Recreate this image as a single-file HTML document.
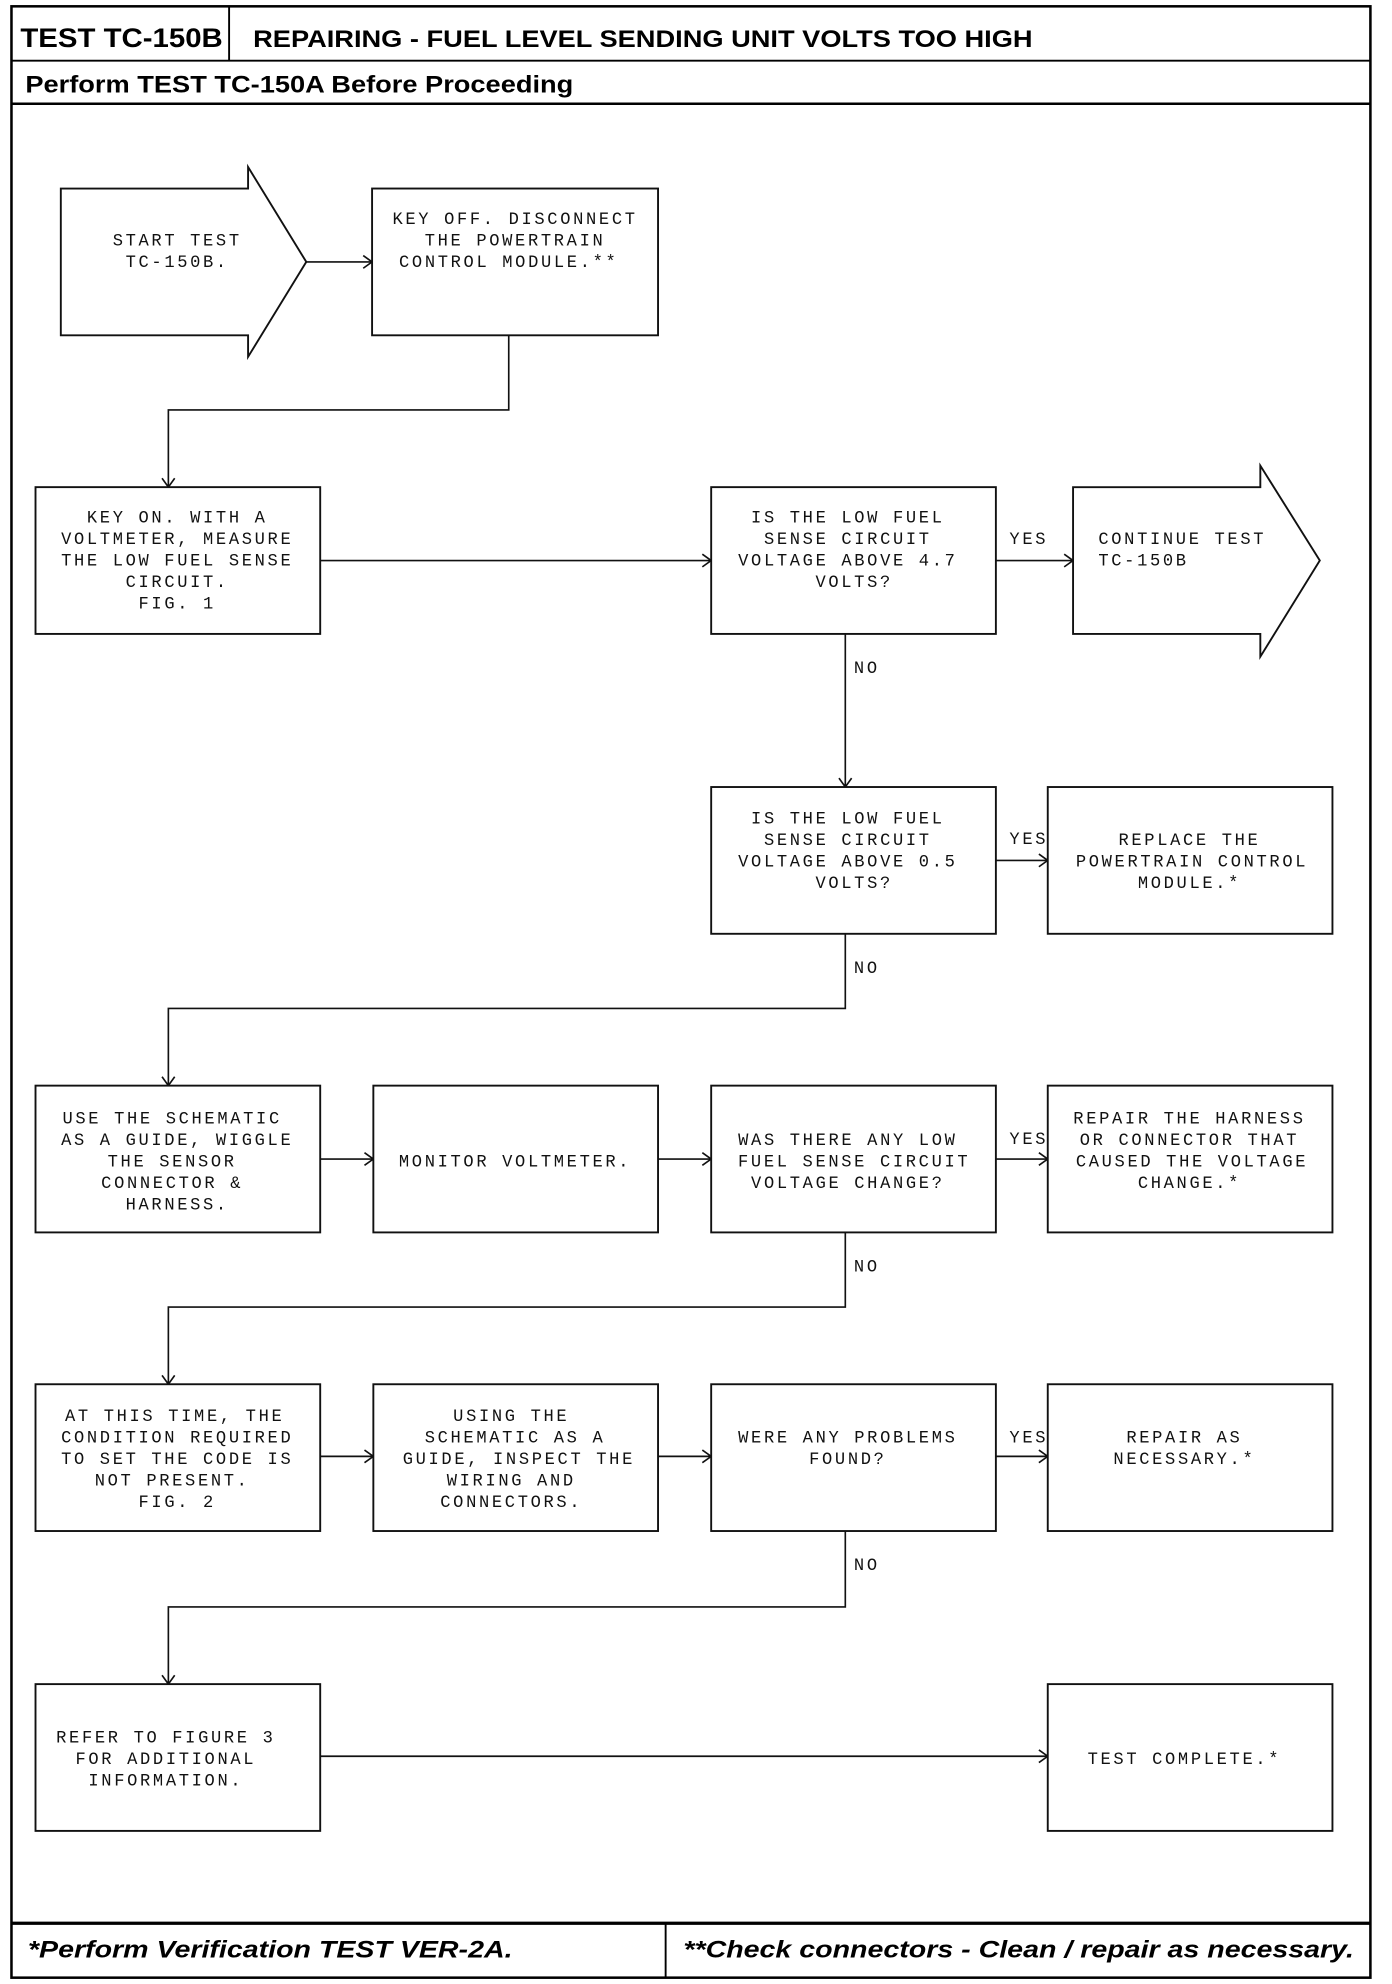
<!DOCTYPE html>
<html><head><meta charset="utf-8"><style>
html,body{margin:0;padding:0;background:#fff}
svg{display:block}
.m{font-family:"Liberation Mono",monospace;font-size:13.5px;letter-spacing:2.1px;text-anchor:middle;fill:#111}
.l{fill:none;stroke:#111;stroke-width:1.3}
.b{fill:#fff;stroke:#111;stroke-width:1.5}
.h{font-family:"Liberation Sans",sans-serif;font-weight:bold;fill:#000}
</style></head><body>
<svg width="1392" height="1984" viewBox="0 0 1100 1568" xmlns="http://www.w3.org/2000/svg">
<defs><marker id="a" markerWidth="12" markerHeight="12" refX="10" refY="6" orient="auto" markerUnits="userSpaceOnUse"><path d="M3,1 L10,6 L3,11" fill="none" stroke="#111" stroke-width="1.3"/></marker></defs>
<!-- frame -->
<rect x="9" y="5" width="1074" height="1558" fill="none" stroke="#000" stroke-width="2"/>
<line x1="9" y1="48" x2="1083" y2="48" stroke="#000" stroke-width="1.5"/>
<line x1="181" y1="5" x2="181" y2="48" stroke="#000" stroke-width="1.5"/>
<line x1="9" y1="82" x2="1083" y2="82" stroke="#000" stroke-width="2"/>
<line x1="9" y1="1520" x2="1083" y2="1520" stroke="#000" stroke-width="2.5"/>
<line x1="526" y1="1520" x2="526" y2="1563" stroke="#000" stroke-width="1.5"/>
<text class="h" x="16" y="37" font-size="21" textLength="160" lengthAdjust="spacingAndGlyphs">TEST TC-150B</text>
<text class="h" x="200" y="37" font-size="19" textLength="616" lengthAdjust="spacingAndGlyphs">REPAIRING - FUEL LEVEL SENDING UNIT VOLTS TOO HIGH</text>
<text class="h" x="20" y="73" font-size="19" textLength="433" lengthAdjust="spacingAndGlyphs">Perform TEST TC-150A Before Proceeding</text>
<text class="h" x="22" y="1547" font-size="19" font-style="italic" textLength="383" lengthAdjust="spacingAndGlyphs">*Perform Verification TEST VER-2A.</text>
<text class="h" x="540" y="1547" font-size="19" font-style="italic" textLength="530" lengthAdjust="spacingAndGlyphs">**Check connectors - Clean / repair as necessary.</text>

<!-- row 1 -->
<path class="b" d="M48,149 H196 V132 L242,207 L196,282 V265 H48 Z"/>
<text class="m" x="140" y="194">START TEST</text><text class="m" x="140" y="211">TC-150B.</text>
<line class="l" x1="242" y1="207" x2="294" y2="207" marker-end="url(#a)"/>
<rect class="b" x="294" y="149" width="226" height="116"/>
<text class="m" x="407" y="177">KEY OFF. DISCONNECT</text><text class="m" x="407" y="194">THE POWERTRAIN</text><text class="m" x="402" y="211">CONTROL MODULE.**</text>
<polyline class="l" points="402,265 402,324 133,324 133,385" marker-end="url(#a)"/>

<!-- row 2 -->
<rect class="b" x="28" y="385" width="225" height="116"/>
<text class="m" x="140" y="413">KEY ON. WITH A</text><text class="m" x="140" y="430">VOLTMETER, MEASURE</text><text class="m" x="140" y="447">THE LOW FUEL SENSE</text><text class="m" x="140" y="464">CIRCUIT.</text><text class="m" x="140" y="481">FIG. 1</text>
<line class="l" x1="253" y1="443" x2="562" y2="443" marker-end="url(#a)"/>
<rect class="b" x="562" y="385" width="225" height="116"/>
<text class="m" x="670" y="413">IS THE LOW FUEL</text><text class="m" x="670" y="430">SENSE CIRCUIT</text><text class="m" x="670" y="447">VOLTAGE ABOVE 4.7</text><text class="m" x="675" y="464">VOLTS?</text>
<text class="m" x="813" y="430">YES</text>
<line class="l" x1="787" y1="443" x2="848" y2="443" marker-end="url(#a)"/>
<path class="b" d="M848,385 H996 V368 L1043,443 L996,519 V501 H848 Z"/>
<text class="m" x="868" y="430" style="text-anchor:start">CONTINUE TEST</text><text class="m" x="868" y="447" style="text-anchor:start">TC-150B</text>
<line class="l" x1="668" y1="501" x2="668" y2="622" marker-end="url(#a)"/>
<text class="m" x="685" y="532">NO</text>

<!-- row 3 -->
<rect class="b" x="562" y="622" width="225" height="116"/>
<text class="m" x="670" y="651">IS THE LOW FUEL</text><text class="m" x="670" y="668">SENSE CIRCUIT</text><text class="m" x="670" y="685">VOLTAGE ABOVE 0.5</text><text class="m" x="675" y="702">VOLTS?</text>
<text class="m" x="813" y="667">YES</text>
<line class="l" x1="787" y1="680" x2="828" y2="680" marker-end="url(#a)"/>
<rect class="b" x="828" y="622" width="225" height="116"/>
<text class="m" x="940" y="668">REPLACE THE</text><text class="m" x="942" y="685">POWERTRAIN CONTROL</text><text class="m" x="940" y="702">MODULE.*</text>
<polyline class="l" points="668,738 668,797 133,797 133,858" marker-end="url(#a)"/>
<text class="m" x="685" y="769">NO</text>

<!-- row 4 -->
<rect class="b" x="28" y="858" width="225" height="116"/>
<text class="m" x="136" y="888">USE THE SCHEMATIC</text><text class="m" x="140" y="905">AS A GUIDE, WIGGLE</text><text class="m" x="136" y="922">THE SENSOR</text><text class="m" x="136" y="939">CONNECTOR &amp;</text><text class="m" x="140" y="956">HARNESS.</text>
<line class="l" x1="253" y1="916" x2="295" y2="916" marker-end="url(#a)"/>
<rect class="b" x="295" y="858" width="225" height="116"/>
<text class="m" x="407" y="922">MONITOR VOLTMETER.</text>
<line class="l" x1="520" y1="916" x2="562" y2="916" marker-end="url(#a)"/>
<rect class="b" x="562" y="858" width="225" height="116"/>
<text class="m" x="670" y="905">WAS THERE ANY LOW</text><text class="m" x="675" y="922">FUEL SENSE CIRCUIT</text><text class="m" x="670" y="939">VOLTAGE CHANGE?</text>
<text class="m" x="813" y="904">YES</text>
<line class="l" x1="787" y1="916" x2="828" y2="916" marker-end="url(#a)"/>
<rect class="b" x="828" y="858" width="225" height="116"/>
<text class="m" x="940" y="888">REPAIR THE HARNESS</text><text class="m" x="940" y="905">OR CONNECTOR THAT</text><text class="m" x="942" y="922">CAUSED THE VOLTAGE</text><text class="m" x="940" y="939">CHANGE.*</text>
<polyline class="l" points="668,974 668,1033 133,1033 133,1094" marker-end="url(#a)"/>
<text class="m" x="685" y="1005">NO</text>

<!-- row 5 -->
<rect class="b" x="28" y="1094" width="225" height="116"/>
<text class="m" x="138" y="1123">AT THIS TIME, THE</text><text class="m" x="140" y="1140">CONDITION REQUIRED</text><text class="m" x="140" y="1157">TO SET THE CODE IS</text><text class="m" x="136" y="1174">NOT PRESENT.</text><text class="m" x="140" y="1191">FIG. 2</text>
<line class="l" x1="253" y1="1151" x2="295" y2="1151" marker-end="url(#a)"/>
<rect class="b" x="295" y="1094" width="225" height="116"/>
<text class="m" x="404" y="1123">USING THE</text><text class="m" x="407" y="1140">SCHEMATIC AS A</text><text class="m" x="410" y="1157">GUIDE, INSPECT THE</text><text class="m" x="404" y="1174">WIRING AND</text><text class="m" x="404" y="1191">CONNECTORS.</text>
<line class="l" x1="520" y1="1151" x2="562" y2="1151" marker-end="url(#a)"/>
<rect class="b" x="562" y="1094" width="225" height="116"/>
<text class="m" x="670" y="1140">WERE ANY PROBLEMS</text><text class="m" x="670" y="1157">FOUND?</text>
<text class="m" x="813" y="1140">YES</text>
<line class="l" x1="787" y1="1151" x2="828" y2="1151" marker-end="url(#a)"/>
<rect class="b" x="828" y="1094" width="225" height="116"/>
<text class="m" x="936" y="1140">REPAIR AS</text><text class="m" x="936" y="1157">NECESSARY.*</text>
<polyline class="l" points="668,1210 668,1270 133,1270 133,1331" marker-end="url(#a)"/>
<text class="m" x="685" y="1241">NO</text>

<!-- row 6 -->
<rect class="b" x="28" y="1331" width="225" height="116"/>
<text class="m" x="131" y="1377">REFER TO FIGURE 3</text><text class="m" x="131" y="1394">FOR ADDITIONAL</text><text class="m" x="131" y="1411">INFORMATION.</text>
<line class="l" x1="253" y1="1388" x2="828" y2="1388" marker-end="url(#a)"/>
<rect class="b" x="828" y="1331" width="225" height="116"/>
<text class="m" x="936" y="1394">TEST COMPLETE.*</text>
</svg>
</body></html>
